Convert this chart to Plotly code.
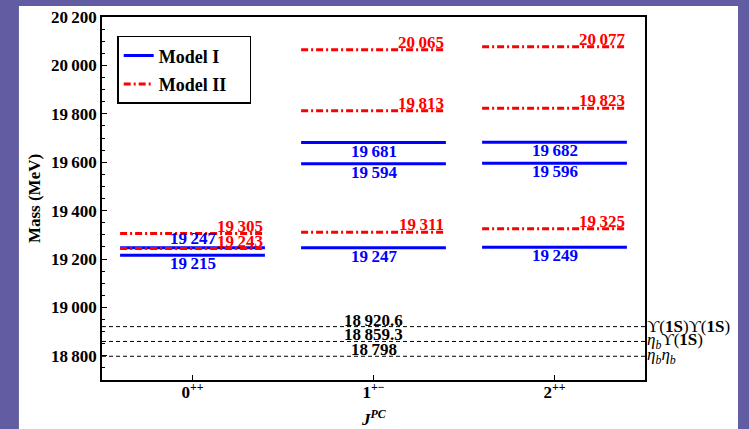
import plotly.graph_objects as go

categories = ["0<sup>++</sup>", "1<sup>+−</sup>", "2<sup>++</sup>"]
model1 = [[19215, 19247], [19247, 19594, 19681], [19249, 19596, 19682]]
model2 = [[19243, 19305], [19311, 19813, 20065], [19325, 19823, 20077]]
thresholds = [18920.6, 18859.3, 18798]
threshold_labels = ["18\u2009920.6", "18\u2009859.3", "18\u2009798"]
threshold_names = ["ϒ(<b>1S</b>)ϒ(<b>1S</b>)", "<i>η<sub>b</sub></i>ϒ(<b>1S</b>)", "<i>η<sub>b</sub>η<sub>b</sub></i>"]
yticks = [18800, 19000, 19200, 19400, 19600, 19800, 20000, 20200]

FONT = "Liberation Serif"
BLUE = "#0000FF"
RED = "#FF0000"
HW = 0.4
FS = 17

def fmt(v):
    s = f"{v:.0f}"
    return s[:-3] + "\u2009" + s[-3:]

fig = go.Figure()

# threshold lines
for t in thresholds:
    fig.add_trace(go.Scatter(x=[-0.5, 2.5], y=[t, t], mode="lines",
                             line=dict(color="black", width=1, dash="4px,3px"),
                             showlegend=False, hoverinfo="skip"))

first = True
for i, vals in enumerate(model1):
    for v in vals:
        fig.add_trace(go.Scatter(x=[i - HW, i + HW], y=[v, v], mode="lines",
                                 line=dict(color=BLUE, width=3),
                                 name="Model I\u00a0\u00a0\u00a0\u00a0", legendgroup="m1", showlegend=first))
        first = False
first = True
for i, vals in enumerate(model2):
    for v in vals:
        fig.add_trace(go.Scatter(x=[i - HW, i + HW], y=[v, v], mode="lines",
                                 line=dict(color=RED, width=3, dash="7px,3px,2px,3px"),
                                 name="Model II\u00a0\u00a0\u00a0\u00a0", legendgroup="m2", showlegend=first))
        first = False

ann_font = dict(family=FONT, size=FS, weight="bold")
# Model I labels
for i, vals in enumerate(model1):
    for v in vals:
        above = (i == 0 and v == 19247)
        fig.add_annotation(x=i, y=v, text=fmt(v), showarrow=False,
                           xanchor="center", yanchor="bottom" if above else "top",
                           yshift=-2 if above else 3,
                           font=dict(color=BLUE, **ann_font))
# Model II labels
for i, vals in enumerate(model2):
    for v in vals:
        fig.add_annotation(x=i + HW, y=v, text=fmt(v), showarrow=False,
                           xanchor="right", yanchor="bottom", yshift=-4,
                           font=dict(color=RED, **ann_font))
# threshold labels
for t, lab, nm in zip(thresholds, threshold_labels, threshold_names):
    fig.add_annotation(x=1, y=t, text=lab, showarrow=False, xanchor="center",
                       yanchor="bottom", yshift=-5, font=dict(color="black", **ann_font))
    fig.add_annotation(x=1.0, xref="paper", y=t, text=nm, showarrow=False,
                       xanchor="left", yanchor="middle", xshift=0,
                       font=dict(family=FONT, size=FS, color="black"))

# x-axis title
fig.add_annotation(x=0.5, xref="paper", y=0, yref="paper", yshift=-25, text="<i>J<sup>PC</sup></i>",
                   showarrow=False, xanchor="center", yanchor="top",
                   font=dict(family=FONT, size=FS, weight="bold"))

fig.add_shape(type="rect", xref="paper", yref="paper", x0=-0.153, x1=1.1713,
              y0=-0.2, y1=1.0303, fillcolor="white", line=dict(width=0), layer="below")

fig.update_layout(
    width=749, height=429,
    margin=dict(l=102, r=104, t=17, b=49),
    paper_bgcolor="#625CA2", plot_bgcolor="white",
    font=dict(family=FONT, color="black"),
    legend=dict(x=0.028, y=0.948, xanchor="left", yanchor="top",
                bgcolor="white", bordercolor="black", borderwidth=1.5,
                font=dict(family=FONT, size=18, weight="bold"),
                tracegroupgap=2),
    xaxis=dict(range=[-0.5, 2.5], tickvals=[0, 1, 2], ticktext=categories,
               showline=True, linecolor="black", linewidth=1.5, mirror=True,
               ticks="inside", ticklen=5, tickcolor="black", showgrid=False, zeroline=False,
               ticklabelstandoff=-4, automargin=False,
               tickfont=dict(family=FONT, size=FS, weight="bold")),
    yaxis=dict(range=[18700, 20200], tickvals=yticks, ticktext=[fmt(v) for v in yticks],
               showline=True, linecolor="black", linewidth=1.5, mirror=True,
               ticks="inside", ticklen=5, tickcolor="black", showgrid=False, zeroline=False,
               automargin=False,
               minor=dict(dtick=50, ticks="inside", ticklen=3, tickcolor="black", showgrid=False),
               tickfont=dict(family=FONT, size=FS, weight="bold"),
               title=dict(text="Mass (MeV)", font=dict(family=FONT, size=FS, weight="bold"), standoff=6)),
)

fig.write_html("out.html")
